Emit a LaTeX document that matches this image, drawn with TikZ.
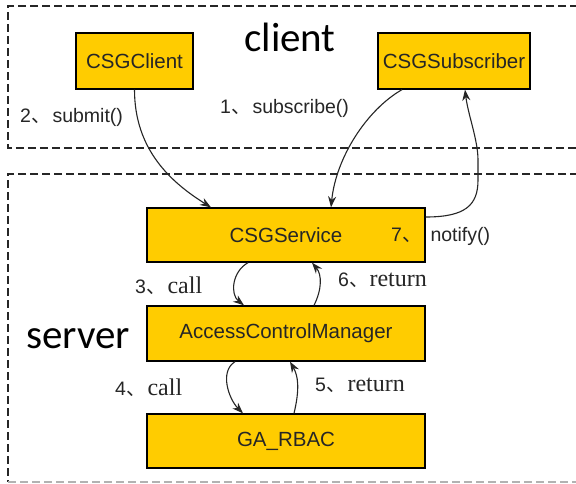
\documentclass[tikz,border=0pt]{standalone}
\usepackage{fontspec}
\usetikzlibrary{arrows.meta}
\newfontfamily\boxfont{Liberation Sans}
\newfontfamily\serifword{Liberation Serif}
\newfontfamily\cjkfont{Noto Sans CJK SC}
\newfontfamily\titlefont{Carlito}
\newcommand{\dun}{{\cjkfont 、}\hspace{2pt}}
\newcommand{\sw}[1]{{\serifword\fontsize{24}{26}\selectfont #1}}
\definecolor{boxyellow}{HTML}{FFCC00}
\tikzset{
  comp/.style={draw=black, line width=1.3pt, fill=boxyellow, inner sep=0pt,
    font=\boxfont\fontsize{20.5}{22}\selectfont, text=black!85},
  frame/.style={draw=black!85, line width=1.3pt, dash pattern=on 8pt off 4pt},
  lbl/.style={font=\boxfont\fontsize{19.5}{21}\selectfont, text=black!85, inner sep=0pt, anchor=west},
  title/.style={font=\titlefont\fontsize{41}{45}\selectfont, text=black, inner sep=0pt},
  arr/.style={draw=black!85, line width=1.1pt, -{Stealth[length=11pt,width=8pt]}},
}
\begin{document}
\begin{tikzpicture}[x=1pt,y=-1pt]
\clip (0,0) rectangle (576,483);
\fill[white] (0,0) rectangle (576,483);

% dashed frames
\draw[frame] (590,6) -- (8,6) -- (8,148) -- (590,148);
\draw[frame] (590,174) -- (8,174) -- (8,482);
\draw[frame, draw=black!30] (8,482) -- (590,482);

\node[title] (tclient) at (290,37) {client};
\node[title] (tserver) at (78,339) {server};

% components
\node[comp, minimum width=117pt, minimum height=56pt] (cli) at (134.5,61) {CSGClient};
\node[comp, minimum width=152pt, minimum height=56pt] (sub) at (454,61) {CSGSubscriber};
\node[comp, minimum width=278pt, minimum height=54pt] (svc) at (286,235) {CSGService};
\node[comp, minimum width=278pt, minimum height=55pt] (acm) at (286,333.5) {AccessControlManager};
\node[comp, minimum width=278pt, minimum height=54pt] (rbac) at (286,441) {GA\_RBAC};

% labels
\node[lbl] (l2) at (20,117) {2\dun submit()};
\node[lbl] (l1) at (220,108) {1\dun subscribe()};
\node[lbl] (l7) at (391,236) {7{\cjkfont 、}\hspace{9pt}notify()};
\node[lbl] (l3) at (135,286) {3\dun\sw{call}};
\node[lbl] (l6) at (338,280) {6{\cjkfont 、}\hspace{1pt}\sw{return}};
\node[lbl] (l4) at (115,388) {4\dun\sw{call}};
\node[lbl] (l5) at (315,385) {5\dun\sw{return}};

% connectors
\draw[arr] (cli.south) .. controls +(0,60) and +(-40,-25) .. ([xshift=-75pt]svc.north);
\draw[arr] ([xshift=-52pt]sub.south) .. controls +(-35,20) and +(5,-50) .. ([xshift=45pt]svc.north);
\draw[arr] ([yshift=18pt]svc.east) .. controls +(40,0) and +(0,25) .. (478,180)
  -- (478,160) .. controls +(0,-20) and +(3,25) .. ([xshift=11pt]sub.south);
\draw[arr] ([xshift=-38pt]svc.south) .. controls +(-16,9) and +(-14,-11) .. ([xshift=-42pt]acm.north);
\draw[arr] ([xshift=28pt]acm.north) .. controls +(8,-16) and +(10,12) .. ([xshift=26pt]svc.south);
\draw[arr] ([xshift=-51pt]acm.south) .. controls +(-16,10) and +(-14,-14) .. ([xshift=-43pt]rbac.north);
\draw[arr] ([xshift=8pt]rbac.north) .. controls +(6,-25) and +(8,14) .. ([xshift=4pt]acm.south);
\end{tikzpicture}
\end{document}
